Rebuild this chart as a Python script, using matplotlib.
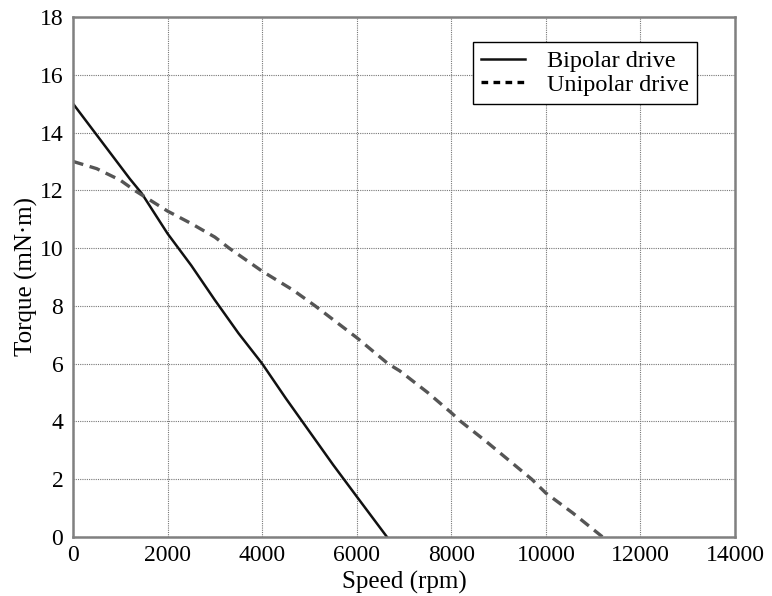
import matplotlib.pyplot as plt

plt.rcParams['font.family'] = ['Liberation Serif', 'DejaVu Serif']

# Torque-speed curves
bipolar_speed = [0, 600, 1200, 1450, 2000, 2500, 3000, 3500, 4000,
                 4500, 5000, 5500, 6000, 6640]
bipolar_torque = [15.0, 13.7, 12.4, 11.9, 10.5, 9.4, 8.2, 7.05, 6.0,
                  4.8, 3.65, 2.5, 1.4, 0.0]

unipolar_speed = [0, 500, 1000, 1300, 2000, 2500, 3000, 3300, 4000, 4650,
                  5120, 6000, 6660, 6910, 7500, 8000, 8200, 8750, 9700,
                  10000, 10570, 11200]
unipolar_torque = [13.0, 12.75, 12.35, 12.0, 11.28, 10.85, 10.38, 10.0, 9.2,
                   8.55, 8.0, 6.9, 6.0, 5.75, 5.0, 4.3, 4.0, 3.29, 2.0,
                   1.52, 0.83, 0.0]

x_ticks = [0, 2000, 4000, 6000, 8000, 10000, 12000, 14000]
y_ticks = [0, 2, 4, 6, 8, 10, 12, 14, 16, 18]

fig = plt.figure(figsize=(7.72, 5.96), dpi=100)
ax = fig.add_axes([0.0946, 0.099, 0.8575, 0.8725])

ax.plot(bipolar_speed, bipolar_torque, color='#111111', linewidth=1.8,
        label='Bipolar drive')
ax.plot(unipolar_speed, unipolar_torque, color='#555555', linewidth=2.4,
        dashes=(3.2, 2.0), label='Unipolar drive')

ax.set(xlim=(0, 14000), ylim=(0, 18))
ax.set_xticks(x_ticks)
ax.set_yticks(y_ticks)
ax.tick_params(axis='both', length=0, labelsize=17, colors='black')
ax.tick_params(axis='x', pad=6)
ax.tick_params(axis='y', pad=7)

ax.grid(True, color='#777777', linestyle=(0, (1, 1)), linewidth=0.8)
ax.set_axisbelow(True)

for side in ['left', 'right', 'top', 'bottom']:
    ax.spines[side].set_color('#808080')
    ax.spines[side].set_linewidth(1.8)

ax.set_xlabel('Speed (rpm)', fontsize=18, labelpad=3.5)
ax.set_ylabel('Torque (mN·m)', fontsize=18, labelpad=1)

leg = ax.legend(loc='upper right', bbox_to_anchor=(0.943, 0.952),
                fontsize=17.5, frameon=True, fancybox=False, framealpha=1,
                handlelength=1.8, handletextpad=0.9, borderpad=0.35,
                labelspacing=0.05, borderaxespad=0)
leg.get_frame().set_edgecolor('black')
leg.get_frame().set_linewidth(1.0)
leg.legend_handles[1].set_color('black')
leg.legend_handles[1].set_dashes((2.0, 1.6))

fig.savefig('out.png', dpi=100)
